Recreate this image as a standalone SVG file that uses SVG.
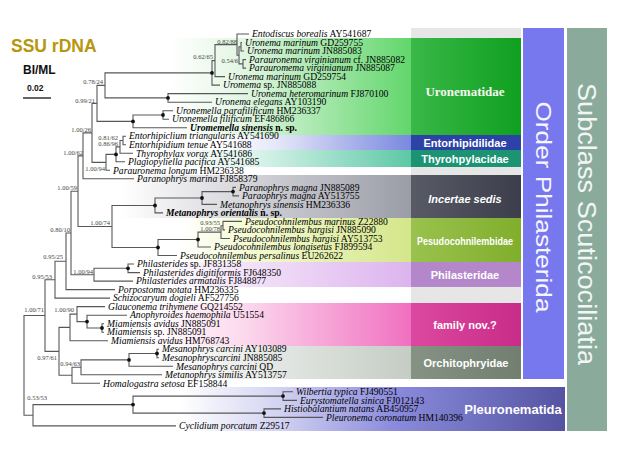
<svg xmlns="http://www.w3.org/2000/svg" width="619" height="463" viewBox="0 0 619 463">
<defs>
<style>
.lf{font-family:"Liberation Serif","Times New Roman",serif;font-size:9.6px;fill:#000}
.it{font-style:italic}
.bd{font-weight:bold}
.sv{font-family:"Liberation Serif","Times New Roman",serif;font-size:6.5px;fill:#444;text-anchor:end}
.fam{font-family:"Liberation Sans",Arial,sans-serif;font-size:11px;font-weight:bold;fill:#fff;text-anchor:middle}
.br{fill:none;stroke:#585858;stroke-width:1.1}
.dot{fill:#111}
</style>
<linearGradient id="gU" x1="0" x2="1" y1="0" y2="0"><stop offset="0" stop-color="#fff"/><stop offset="0.3" stop-color="#e2f6e3"/><stop offset="1" stop-color="#62d66c"/></linearGradient>
<linearGradient id="gE" x1="0" x2="1" y1="0" y2="0"><stop offset="0" stop-color="#fff"/><stop offset="0.3" stop-color="#e4e7f8"/><stop offset="1" stop-color="#7a88e0"/></linearGradient>
<linearGradient id="gT" x1="0" x2="1" y1="0" y2="0"><stop offset="0" stop-color="#fff"/><stop offset="0.35" stop-color="#dcf4ec"/><stop offset="1" stop-color="#5cc8a6"/></linearGradient>
<linearGradient id="gI" x1="0" x2="1" y1="0" y2="0"><stop offset="0" stop-color="#fff"/><stop offset="0.3" stop-color="#e2e2e6"/><stop offset="1" stop-color="#9a9ca6"/></linearGradient>
<linearGradient id="gP" x1="0" x2="1" y1="0" y2="0"><stop offset="0" stop-color="#fff"/><stop offset="0.3" stop-color="#f4fad2"/><stop offset="1" stop-color="#d4e68a"/></linearGradient>
<linearGradient id="gH" x1="0" x2="1" y1="0" y2="0"><stop offset="0" stop-color="#fff"/><stop offset="0.35" stop-color="#f4e4f9"/><stop offset="1" stop-color="#dcb4ee"/></linearGradient>
<linearGradient id="gF" x1="0" x2="1" y1="0" y2="0"><stop offset="0" stop-color="#fff"/><stop offset="0.35" stop-color="#fcdaee"/><stop offset="1" stop-color="#f070c0"/></linearGradient>
<linearGradient id="gO" x1="0" x2="1" y1="0" y2="0"><stop offset="0" stop-color="#fff"/><stop offset="0.35" stop-color="#eceeec"/><stop offset="1" stop-color="#c4ccc4"/></linearGradient>
<linearGradient id="gL" x1="0" x2="1" y1="0" y2="0"><stop offset="0" stop-color="#fff"/><stop offset="0.25" stop-color="#d4d4f2"/><stop offset="0.55" stop-color="#8c8cde"/><stop offset="1" stop-color="#5454a2"/></linearGradient>
<linearGradient id="bU" x1="0" x2="1" y1="0" y2="0"><stop offset="0" stop-color="#3ab848"/><stop offset="1" stop-color="#0fa020"/></linearGradient>
<linearGradient id="bI" x1="0" x2="1" y1="0" y2="0"><stop offset="0" stop-color="#585a66"/><stop offset="1" stop-color="#3c3f4b"/></linearGradient>
<linearGradient id="bP" x1="0" x2="1" y1="0" y2="0"><stop offset="0" stop-color="#9ac24e"/><stop offset="1" stop-color="#80ae2c"/></linearGradient>
<linearGradient id="bF" x1="0" x2="1" y1="0" y2="0"><stop offset="0" stop-color="#dc48a0"/><stop offset="1" stop-color="#c82c88"/></linearGradient>
<linearGradient id="bO" x1="0" x2="1" y1="0" y2="0"><stop offset="0" stop-color="#869284"/><stop offset="1" stop-color="#727f70"/></linearGradient>
</defs>
<rect width="619" height="463" fill="#fff"/>

<g id="bands">
<rect x="411" y="28" width="110" height="351" fill="#e6e6e6"/>
<rect x="170" y="38" width="241" height="97" fill="url(#gU)"/>
<rect x="220" y="135" width="191" height="15" fill="url(#gE)"/>
<rect x="170" y="150" width="241" height="17" fill="url(#gT)"/>
<rect x="120" y="175" width="291" height="43" fill="url(#gI)"/>
<rect x="180" y="218" width="231" height="44" fill="url(#gP)"/>
<rect x="150" y="262" width="261" height="25" fill="url(#gH)"/>
<rect x="150" y="303" width="261" height="43" fill="url(#gF)"/>
<rect x="150" y="346" width="261" height="33" fill="url(#gO)"/>
<rect x="180" y="387" width="385" height="44" fill="url(#gL)"/>
</g>

<g id="fam-uronematidae"><rect x="411" y="38" width="110" height="97" fill="url(#bU)"/><text x="465" y="96" style="font-family:'Liberation Serif','Times New Roman',serif;font-size:13px;font-weight:bold;fill:#f4f8ee;text-anchor:middle">Uronematidae</text></g>
<g id="fam-entorhipidiidae"><rect x="411" y="135" width="110" height="15" fill="#2d42a6"/><text class="fam" x="465" y="147.3">Entorhipidilidae</text></g>
<g id="fam-thyrophylacidae"><rect x="411" y="150" width="110" height="17" fill="#1c9474"/><text class="fam" x="465" y="163">Thyrohpylacidae</text></g>
<g id="fam-incertae"><rect x="411" y="175" width="110" height="43" fill="url(#bI)"/><text class="fam" x="465" y="203" font-style="italic">Incertae sedis</text></g>
<g id="fam-pseudocohnilembidae"><rect x="411" y="218" width="110" height="44" fill="url(#bP)"/><text class="fam" x="465" y="245" textLength="96" lengthAdjust="spacingAndGlyphs">Pesudocohnilembidae</text></g>
<g id="fam-philasteridae"><rect x="411" y="262" width="110" height="25" fill="#b487cb"/><text class="fam" x="465" y="279">Philasteridae</text></g>
<g id="fam-nov"><rect x="411" y="303" width="110" height="43" fill="url(#bF)"/><text class="fam" x="465" y="329">family nov.?</text></g>
<g id="fam-orchitophryidae"><rect x="411" y="346" width="110" height="33" fill="url(#bO)"/><text class="fam" x="466" y="367">Orchitophryidae</text></g>
<g id="order-pleuronematida"><text x="513" y="414" style="font-family:'Liberation Sans',Arial,sans-serif;font-size:13px;font-weight:bold;fill:#fff;text-anchor:middle">Pleuronematida</text></g>
<g id="order-philasterida"><rect x="523" y="28" width="41" height="351" fill="#7878ee"/><text transform="translate(543.5,207) rotate(90)" x="0" y="7.8" textLength="211" lengthAdjust="spacingAndGlyphs" style="font-family:'Liberation Sans',Arial,sans-serif;font-size:22px;fill:#f6f6ff;text-anchor:middle">Order Philasterida</text></g>
<g id="subclass"><rect x="567" y="28" width="40" height="403" fill="#8aab9c"/><text transform="translate(587,224) rotate(90)" x="0" y="9.3" textLength="282" lengthAdjust="spacingAndGlyphs" style="font-family:'Liberation Sans',Arial,sans-serif;font-size:26px;fill:#f2f6f4;text-anchor:middle">Subclass Scuticociliatia</text></g>

<g id="title"><text x="11" y="52" style="font-family:'Liberation Sans',Arial,sans-serif;font-size:17.5px;font-weight:bold;fill:#b8960c">SSU rDNA</text>
<text x="23" y="74" style="font-family:'Liberation Sans',Arial,sans-serif;font-size:12px;font-weight:bold;fill:#111">BI/ML</text></g>
<g id="scale"><text x="27" y="91" style="font-family:'Liberation Sans',Arial,sans-serif;font-size:8.5px;font-weight:bold;fill:#111">0.02</text><line x1="23" y1="98" x2="51" y2="98" stroke="#111" stroke-width="1.3"/></g>

<g id="connectors">
<path class="br" d="M242 42.5H241V51H244 M246 59.6H243V68.1H246 M241 46.8H239V63.9H243 M249 34H237V55.3H239 M237 44.6H215V76.6H225 M215 60.6H212V85.1H220 M248 93.6H168V102.2H212 M212 72.9H105V97.9H168 M173 110.7H163V119.2H169 M163 115H133V127.7H187 M105 85.4H97V121.4H133 M126 136.2H123V144.8H126 M123 140.5H120V153.3H133 M120 146.9H116V161.8H125 M116 154.4H106V170.3H110 M97 103.4H92V162.4H106 M92 132.9H83V178.8H134 M236 187.4H233V195.9H239 M233 191.6H202V204.4H217 M202 198H155V212.9H163 M242 221.4H223V229.9H225 M223 225.7H221V238.5H230 M221 232.1H198V247H211 M198 239.5H158V255.5H177 M155 205.5H112V247.5H158 M83 155.9H78V226.5H112 M134 264H128V272.6H140 M128 268.3H94V281.1H133 M78 191.2H71V274.7H94 M71 233H66V289.6H115 M66 261.3H55V298.1H110 M104 323.7H102V332.2H104 M127 315.2H87V328H102 M105 306.6H77V321.6H87 M77 314.1H70V340.7H108 M159 349.2H157V357.8H159 M157 353.5H129V366.3H173 M129 359.9H81V374.8H162 M81 367.3H72V383.3H100 M70 327.4H59V375.3H72 M55 279.7H45V351.4H59 M293 391.8H283V400.4H297 M281 408.9H264V417.4H323 M283 396.1H133V413.1H264 M133 404.6H33V425.9H176 M45 315.5H24V415.3H33"/>
<g class="dot">
<circle cx="212" cy="72.9" r="1.9"/><circle cx="168" cy="97.9" r="1.9"/><circle cx="163" cy="115" r="1.9"/><circle cx="133" cy="121.4" r="1.9"/><circle cx="116" cy="154.4" r="1.9"/>
<circle cx="233" cy="191.6" r="1.9"/><circle cx="202" cy="198" r="1.9"/><circle cx="155" cy="205.5" r="1.9"/><circle cx="198" cy="239.5" r="1.9"/><circle cx="158" cy="247.5" r="1.9"/>
<circle cx="128" cy="268.3" r="1.9"/><circle cx="87" cy="321.6" r="1.9"/><circle cx="102" cy="328" r="1.9"/><circle cx="157" cy="353.5" r="1.9"/><circle cx="129" cy="359.9" r="1.9"/>
<circle cx="283" cy="396.1" r="1.9"/><circle cx="264" cy="413.1" r="1.9"/><circle cx="133" cy="404.6" r="1.9"/>
</g>
</g>

<g id="support">
<text class="sv" x="237" y="44">0.82/88</text><text class="sv" x="213" y="59">0.62/65</text><text class="sv" x="238" y="63">0.54/6</text>
<text class="sv" x="103" y="84">0.78/24</text><text class="sv" x="95" y="103">0.99/21</text><text class="sv" x="91" y="132">1.00/26</text>
<text class="sv" x="118" y="140">0.81/62</text><text class="sv" x="118" y="145.5">0.86/96</text><text class="sv" x="83" y="155">1.00/62</text>
<text class="sv" x="105" y="171">1.00/94</text><text class="sv" x="77" y="190">1.00/59</text><text class="sv" x="110" y="225">1.00/74</text>
<text class="sv" x="220" y="224.5">0.93/55</text><text class="sv" x="220" y="231">1.00/78</text><text class="sv" x="70" y="232">0.80/10</text>
<text class="sv" x="63" y="259">0.95/25</text><text class="sv" x="93" y="274">1.00/94</text><text class="sv" x="52" y="279">0.95/53</text>
<text class="sv" x="44" y="312">1.00/71</text><text class="sv" x="74" y="312">1.00/90</text><text class="sv" x="57" y="360">0.97/61</text>
<text class="sv" x="80" y="366">0.94/63</text><text class="sv" x="47" y="400">0.53/53</text>
</g>

<g id="leaves">
<g id="t1"><text class="lf" x="252" y="37.2"><tspan class="it">Entodiscus borealis</tspan> AY541687</text></g>
<g id="t2"><text class="lf" x="245" y="45.7"><tspan class="it">Uronema marinum</tspan> GD259755</text></g>
<g id="t3"><text class="lf" x="247" y="54.2"><tspan class="it">Uronema marinum</tspan> JN885083</text></g>
<g id="t4"><text class="lf" x="249" y="62.8"><tspan class="it">Parauronema virginianum</tspan> cf. JN885082</text></g>
<g id="t5"><text class="lf" x="249" y="71.3"><tspan class="it">Parauromema virginianum</tspan> JN885087</text></g>
<g id="t6"><text class="lf" x="228" y="79.8"><tspan class="it">Uronema marinum</tspan> GD259754</text></g>
<g id="t7"><text class="lf" x="223" y="88.3"><tspan class="it">Uromema</tspan> sp. JN885088</text></g>
<g id="t8"><text class="lf" x="251" y="96.8"><tspan class="it">Uronema heteromarinum</tspan> FJ870100</text></g>
<g id="t9"><text class="lf" x="215" y="105.4"><tspan class="it">Uronema elegans</tspan> AY103190</text></g>
<g id="t10"><text class="lf" x="176" y="113.9"><tspan class="it">Uronemella parafilificum</tspan> HM236337</text></g>
<g id="t11"><text class="lf" x="172" y="122.4"><tspan class="it">Uronemella filificum</tspan> EF486866</text></g>
<g id="t12"><text class="lf bd" x="190" y="130.9"><tspan class="it">Uromemella sinensis</tspan> n. sp.</text></g>
<g id="t13"><text class="lf" x="129" y="139.4"><tspan class="it">Entorhipiclium triangularis</tspan> AY541690</text></g>
<g id="t14"><text class="lf" x="129" y="148"><tspan class="it">Entorhipidium tenue</tspan> AY541688</text></g>
<g id="t15"><text class="lf" x="136" y="156.5"><tspan class="it">Thyrophylax vorax</tspan> AY541686</text></g>
<g id="t16"><text class="lf" x="128" y="165"><tspan class="it">Plagiopyliella pacifica</tspan> AY541685</text></g>
<g id="t17"><text class="lf" x="113" y="173.5"><tspan class="it">Parauronema longum</tspan> HM236338</text></g>
<g id="t18"><text class="lf" x="137" y="182"><tspan class="it">Paranophrys marina</tspan> FJ858379</text></g>
<g id="t19"><text class="lf" x="239" y="190.6"><tspan class="it">Paranophrys magna</tspan> JN885089</text></g>
<g id="t20"><text class="lf" x="242" y="199.1"><tspan class="it">Paraophrys magna</tspan> AY513755</text></g>
<g id="t21"><text class="lf" x="220" y="207.6"><tspan class="it">Metanophrys sinensis</tspan> HM236336</text></g>
<g id="t22"><text class="lf bd" x="166" y="216.1"><tspan class="it">Metanophrys orientalis</tspan> n. sp.</text></g>
<g id="t23"><text class="lf" x="245" y="224.6"><tspan class="it">Pseudocohnilembus marinus</tspan> Z22880</text></g>
<g id="t24"><text class="lf" x="228" y="233.1"><tspan class="it">Pseudocohnilembus hargisi</tspan> JN885090</text></g>
<g id="t25"><text class="lf" x="233" y="241.7"><tspan class="it">Pseudocohnilembus hargisi</tspan> AY513753</text></g>
<g id="t26"><text class="lf" x="214" y="250.2"><tspan class="it">Pseudocohnilembus longisetus</tspan> FJ899594</text></g>
<g id="t27"><text class="lf" x="180" y="258.7"><tspan class="it">Pseudocohnilembus persalinus</tspan> EU262622</text></g>
<g id="t28"><text class="lf" x="137" y="267.2"><tspan class="it">Philasterides</tspan> sp. JF831358</text></g>
<g id="t29"><text class="lf" x="143" y="275.8"><tspan class="it">Philasterides digitiformis</tspan> FJ648350</text></g>
<g id="t30"><text class="lf" x="136" y="284.3"><tspan class="it">Philasterides armatalis</tspan> FJ848877</text></g>
<g id="t31"><text class="lf" x="118" y="292.8"><tspan class="it">Porpostoma notata</tspan> HM236335</text></g>
<g id="t32"><text class="lf" x="113" y="301.3"><tspan class="it">Schizocaryum dogieli</tspan> AF527756</text></g>
<g id="t33"><text class="lf" x="108" y="309.8"><tspan class="it">Glauconema trihymene</tspan> GQ214552</text></g>
<g id="t34"><text class="lf" x="130" y="318.4"><tspan class="it">Anophyroides haemophila</tspan> U51554</text></g>
<g id="t35"><text class="lf" x="107" y="326.9"><tspan class="it">Miamiensis avidus</tspan> JN885091</text></g>
<g id="t36"><text class="lf" x="107" y="335.4"><tspan class="it">Miamiensis</tspan> sp. JN885091</text></g>
<g id="t37"><text class="lf" x="111" y="343.9"><tspan class="it">Miamiensis avidus</tspan> HM768743</text></g>
<g id="t38"><text class="lf" x="162" y="352.4"><tspan class="it">Mesanophrys carcini</tspan> AY103089</text></g>
<g id="t39"><text class="lf" x="162" y="361"><tspan class="it">Mesanophryscarcini</tspan> JN885085</text></g>
<g id="t40"><text class="lf" x="176" y="369.5"><tspan class="it">Mesanophrys carcini</tspan> QD</text></g>
<g id="t41"><text class="lf" x="165" y="378"><tspan class="it">Metanophrys similis</tspan> AY513757</text></g>
<g id="t42"><text class="lf" x="103" y="386.5"><tspan class="it">Homalogastra setosa</tspan> EF158844</text></g>
<g id="t43"><text class="lf" x="296" y="395"><tspan class="it">Wilbertia typica</tspan> FJ490551</text></g>
<g id="t44"><text class="lf" x="300" y="403.6"><tspan class="it">Eurystomatella sinica</tspan> FJ012143</text></g>
<g id="t45"><text class="lf" x="284" y="412.1"><tspan class="it">Histiobalantium natans</tspan> AB450957</text></g>
<g id="t46"><text class="lf" x="326" y="420.6"><tspan class="it">Pleuronema coronatum</tspan> HM140396</text></g>
<g id="t47"><text class="lf" x="179" y="429.1"><tspan class="it">Cyclidium porcatum</tspan> Z29517</text></g>
</g>
</svg>
